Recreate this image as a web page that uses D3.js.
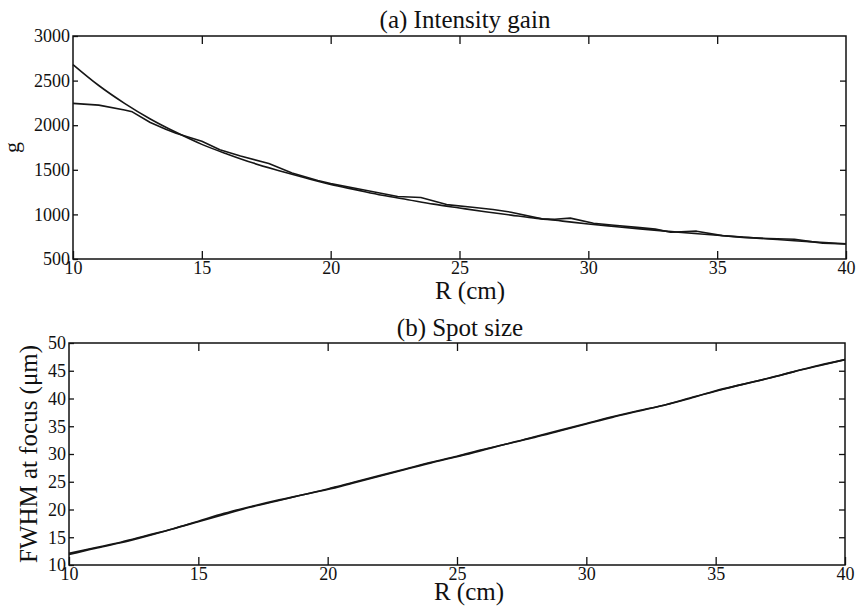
<!DOCTYPE html>
<html>
<head>
<meta charset="utf-8">
<script src="https://cdn.jsdelivr.net/npm/d3@7"></script>
<style>
  body { margin: 0; background: #fff; }
  text { font-family: "Liberation Serif", "Times New Roman", "DejaVu Serif", serif; fill: #111; }
</style>
</head>
<body>
<div class="graph"></div>
<script>
// (a) intensity gain, smooth curve
var gainSmoothR = [10, 11, 12, 13, 14, 15, 16, 17, 18, 19, 20, 21, 22, 23, 24, 25,
                   26, 27, 28, 29, 30, 31, 32, 33, 34, 35, 36, 37, 38, 39, 40];
var gainSmooth = [2680, 2445, 2245, 2070, 1920, 1785, 1675, 1575, 1490, 1410, 1335, 1275, 1215, 1165, 1115, 1072,
                  1030, 992, 955, 925, 893, 865, 838, 812, 788, 766, 745, 725, 705, 688, 670];

// (a) intensity gain, bumpy curve
var gainRoughR = [10, 11, 12, 12.3, 13, 13.6, 14, 15, 15.7, 16.5, 17.6, 18.5, 19.5, 20, 21, 22, 22.6, 23.5,
                  24.5, 25.5, 26.3, 27, 28.2, 28.7, 29.3, 30.2, 31, 32, 32.6, 33.2, 34.2, 35.2, 36, 37, 38, 38.5, 39.1, 40];
var gainRough = [2245, 2225, 2170, 2150, 2030, 1955, 1910, 1820, 1725, 1655, 1570, 1465, 1380, 1345, 1290, 1235, 1200, 1190,
                 1110, 1080, 1055, 1025, 950, 945, 958, 900, 878, 852, 835, 800, 812, 762, 742, 730, 722, 700, 676, 668];

// (b) spot size, two nearly identical curves
var spotR = [10, 11, 12, 13, 14, 15, 16, 17, 18, 19, 20, 21, 22, 23, 24, 25,
             26, 27, 28, 29, 30, 31, 32, 33, 34, 35, 36, 37, 38, 39, 40];
var spotA = [12.1, 13.1, 14.1, 15.3, 16.5, 17.8, 19.1, 20.4, 21.5, 22.6, 23.7, 24.9, 26.1, 27.3, 28.5, 29.6,
             30.8, 31.9, 33.1, 34.3, 35.5, 36.7, 37.8, 38.8, 40.0, 41.4, 42.5, 43.6, 44.8, 46.0, 47.0];
var spotB = [11.9, 13.0, 14.0, 15.2, 16.5, 17.9, 19.3, 20.5, 21.6, 22.6, 23.6, 24.8, 26.0, 27.2, 28.4, 29.5,
             30.7, 31.9, 33.0, 34.2, 35.4, 36.6, 37.7, 38.8, 40.1, 41.3, 42.5, 43.6, 44.8, 45.9, 47.0];

var xTicks = [10, 15, 20, 25, 30, 35, 40];
var gainTicks = [500, 1000, 1500, 2000, 2500, 3000];
var spotTicks = [10, 15, 20, 25, 30, 35, 40, 45, 50];

var NS = {};
NS.width = 862;
NS.height = 613;
NS.font = "'Liberation Serif', 'Times New Roman', 'DejaVu Serif', serif";

function makeSVG() {
  NS.svg = d3.select(".graph")
      .append("svg")
      .attr("width", NS.width)
      .attr("height", NS.height);
  NS.svg.append("rect")
      .attr("width", NS.width)
      .attr("height", NS.height)
      .attr("fill", "#fff");
}

function drawPanel(p) {
  var g = NS.svg.append("g").attr("font-family", NS.font);
  var x = d3.scaleLinear().domain([10, 40]).range([p.left, p.right]);
  var y = d3.scaleLinear().domain(p.yDomain).range([p.bottom, p.top]);
  var fmt = d3.format("d");

  // bottom axis: ticks point up, labels below
  var bottom = g.append("g")
      .attr("transform", "translate(0," + p.bottom + ")")
      .call(d3.axisBottom(x).tickValues(xTicks).tickFormat(fmt)
        .tickSizeInner(-8).tickSizeOuter(0).tickPadding(2));
  // top axis, ticks only
  var top = g.append("g")
      .attr("transform", "translate(0," + p.top + ")")
      .call(d3.axisTop(x).tickValues(xTicks.slice(1, -1)).tickSizeInner(-8).tickSizeOuter(0).tickFormat(""));
  // left axis: inward ticks, labels right-aligned
  var left = g.append("g")
      .attr("transform", "translate(" + p.left + ",0)")
      .call(d3.axisLeft(y).tickValues(p.yTicks).tickFormat(fmt)
        .tickSizeInner(-5).tickSizeOuter(0).tickPadding(3));
  // right axis, ticks only
  var right = g.append("g")
      .attr("transform", "translate(" + p.right + ",0)")
      .call(d3.axisRight(y).tickValues(p.yTicks.slice(1, -1)).tickSizeInner(-6).tickSizeOuter(0).tickFormat(""));

  [bottom, top, left, right].forEach(function(a) {
    a.attr("font-family", NS.font).attr("font-size", 18);
    a.select(".domain").remove();
    a.selectAll("line").attr("stroke", "#111").attr("stroke-width", 1.3);
    a.selectAll("text").attr("fill", "#111");
  });

  // frame
  g.append("rect")
      .attr("x", p.left)
      .attr("y", p.top)
      .attr("width", p.right - p.left)
      .attr("height", p.bottom - p.top)
      .attr("fill", "none")
      .attr("stroke", "#111")
      .attr("stroke-width", 1.5);

  // curves
  p.series.forEach(function(s) {
    var pts = s.r.map(function(r, i) { return [r, s.v[i]]; });
    var line = d3.line()
        .x(function(d) { return x(d[0]); })
        .y(function(d) { return y(d[1]); })
        .curve(s.smooth ? d3.curveMonotoneX : d3.curveLinear);
    g.append("path")
        .datum(pts)
        .attr("d", line)
        .attr("fill", "none")
        .attr("stroke", "#161616")
        .attr("stroke-width", 1.6)
        .attr("stroke-linejoin", "round");
  });

  // title
  g.append("text")
      .attr("x", p.titleX)
      .attr("y", p.titleY)
      .attr("text-anchor", "middle")
      .attr("font-size", 25)
      .text(p.title);

  // x label
  g.append("text")
      .attr("x", p.xLabelX)
      .attr("y", p.xLabelY)
      .attr("text-anchor", "middle")
      .attr("font-size", 25)
      .text("R (cm)");

  // y label
  g.append("text")
      .attr("transform", "translate(" + p.yLabelX + "," + ((p.top + p.bottom) / 2) + ") rotate(-90)")
      .attr("text-anchor", "middle")
      .attr("font-size", p.yLabelSize)
      .text(p.yLabel);
}

function main() {
  makeSVG();

  drawPanel({
    left: 73, right: 846, top: 36, bottom: 259,
    yDomain: [500, 3000], yTicks: gainTicks,
    title: "(a) Intensity gain", titleX: 465, titleY: 28,
    xLabelX: 470, xLabelY: 299,
    yLabel: "g", yLabelX: 19, yLabelSize: 22,
    series: [
      {r: gainSmoothR, v: gainSmooth, smooth: true},
      {r: gainRoughR, v: gainRough, smooth: false}
    ]
  });

  drawPanel({
    left: 69, right: 845, top: 343, bottom: 565,
    yDomain: [10, 50], yTicks: spotTicks,
    title: "(b) Spot size", titleX: 460, titleY: 336,
    xLabelX: 469, xLabelY: 600,
    yLabel: "FWHM at focus (\u03bcm)", yLabelX: 37, yLabelSize: 25,
    series: [
      {r: spotR, v: spotA, smooth: true},
      {r: spotR, v: spotB, smooth: true}
    ]
  });
}

main();
</script>
</body>
</html>
